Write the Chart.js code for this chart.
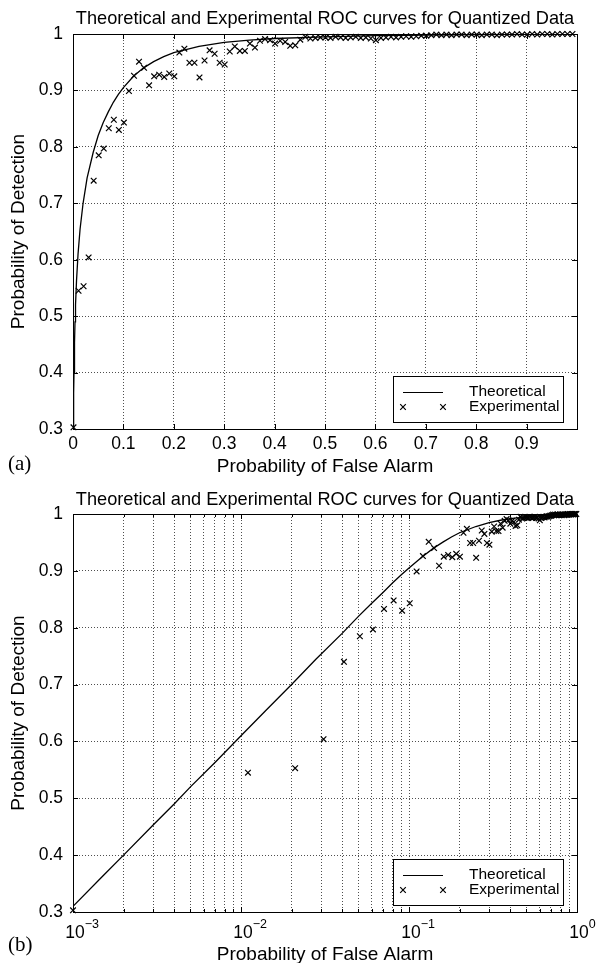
<!DOCTYPE html>
<html>
<head>
<meta charset="utf-8">
<script src="https://cdn.jsdelivr.net/npm/chart.js@4/dist/chart.umd.min.js"></script>
<style>
  body { margin: 0; background: #fff; width: 597px; height: 963px; position: relative; overflow: hidden; }
  .box { position: absolute; left: 0; width: 597px; }
  .tag { position: absolute; left: 8px; font-family: "Liberation Serif", serif; font-size: 21px; color: #000; }
</style>
</head>
<body>
<div class="box" style="top:0;height:481px"><canvas id="rocA"></canvas></div>
<div class="box" style="top:480px;height:490px"><canvas id="rocB"></canvas></div>
<div class="tag" style="top:451px">(a)</div>
<div class="tag" style="top:932px">(b)</div>
<script>
// theoretical ROC curve
const theoryPfa = [0, 0.001, 0.0015, 0.002, 0.003, 0.004, 0.005, 0.007, 0.01, 0.014, 0.02, 0.028, 0.04, 0.05, 0.06, 0.07, 0.08, 0.09,
  0.1, 0.12, 0.14, 0.16, 0.18, 0.2, 0.25, 0.3, 0.35, 0.4, 0.5, 0.6, 0.7, 0.8, 0.9, 1.0];
const theoryPd  = [0.30, 0.31, 0.363, 0.40, 0.453, 0.49, 0.52, 0.563, 0.61, 0.654, 0.70, 0.745, 0.79, 0.82, 0.843, 0.862, 0.879, 0.893,
  0.905, 0.925, 0.94, 0.951, 0.96, 0.967, 0.978, 0.985, 0.989, 0.992, 0.995, 0.997, 0.998, 0.999, 0.9995, 1.0];

// experimental points
const expPfa = [
  0.001, 0.011, 0.021, 0.031, 0.041, 0.051, 0.061, 0.071, 0.081, 0.091,
  0.101, 0.111, 0.121, 0.131, 0.141, 0.151, 0.161, 0.171, 0.181, 0.191,
  0.201, 0.211, 0.221, 0.231, 0.241, 0.251, 0.261, 0.271, 0.281, 0.291,
  0.301, 0.311, 0.321, 0.331, 0.341, 0.351, 0.361, 0.371, 0.381, 0.391,
  0.401, 0.411, 0.421, 0.431, 0.441, 0.451, 0.461, 0.471, 0.481, 0.491,
  0.501, 0.511, 0.521, 0.531, 0.541, 0.551, 0.561, 0.571, 0.581, 0.591,
  0.601, 0.611, 0.621, 0.631, 0.641, 0.651, 0.661, 0.671, 0.681, 0.691,
  0.701, 0.711, 0.721, 0.731, 0.741, 0.751, 0.761, 0.771, 0.781, 0.791,
  0.801, 0.811, 0.821, 0.831, 0.841, 0.851, 0.861, 0.871, 0.881, 0.891,
  0.901, 0.911, 0.921, 0.931, 0.941, 0.951, 0.961, 0.971, 0.981, 0.991
];
const expPd = [
  0.303, 0.545, 0.553, 0.604, 0.740, 0.785, 0.797, 0.833, 0.848, 0.830,
  0.843, 0.899, 0.926, 0.951, 0.940, 0.909, 0.925, 0.928, 0.924, 0.930,
  0.925, 0.967, 0.974, 0.949, 0.949, 0.923, 0.953, 0.971, 0.965, 0.949,
  0.946, 0.969, 0.978, 0.970, 0.970, 0.983, 0.976, 0.988, 0.991, 0.989,
  0.983, 0.988, 0.986, 0.979, 0.980, 0.990, 0.995, 0.992, 0.993, 0.994,
  0.994, 0.993, 0.995, 0.994, 0.993, 0.994, 0.995, 0.993, 0.994, 0.992,
  0.989, 0.993, 0.994, 0.995, 0.994, 0.995, 0.996, 0.995, 0.996, 0.997,
  0.997, 0.998, 0.999, 0.998, 0.999, 0.998, 0.999, 0.999, 0.998, 0.999,
  0.999, 0.998, 0.999, 0.999, 0.998, 0.999, 0.999, 0.999, 1.000, 0.999,
  0.999, 1.000, 0.999, 1.000, 1.000, 0.999, 1.000, 1.000, 1.000, 1.000
];

const titleText = 'Theoretical and Experimental ROC curves for Quantized Data';
const xTitle = 'Probability of False Alarm';
const yTitle = 'Probability of Detection';
const legendLabels = ['Theoretical', 'Experimental'];
const logDecades = [0.001, 0.01, 0.1, 1];
const logExpLabels = ['\u22123', '\u22122', '\u22121', '0'];

const FONT = '"Liberation Sans", Arial, sans-serif';

function drawCross(ctx, x, y, r) {
  ctx.beginPath();
  ctx.moveTo(x - r, y - r); ctx.lineTo(x + r, y + r);
  ctx.moveTo(x - r, y + r); ctx.lineTo(x + r, y - r);
  ctx.stroke();
}

// title, frame, inward tick marks, legend box, log tick labels
const decorations = {
  id: 'decorations',
  afterDraw(chart, args, opts) {
    const ctx = chart.ctx, a = chart.chartArea;
    const xs = chart.scales.x, ys = chart.scales.y;
    ctx.save();

    ctx.fillStyle = '#000';
    ctx.font = '18.2px ' + FONT;
    ctx.textAlign = 'center';
    ctx.textBaseline = 'middle';
    ctx.fillText(titleText, (a.left + a.right) / 2, opts.titleY);

    ctx.strokeStyle = '#000';
    ctx.lineWidth = 1;
    ctx.strokeRect(Math.round(a.left) + 0.5, Math.round(a.top) + 0.5,
      Math.round(a.right - a.left), Math.round(a.bottom - a.top));

    ctx.beginPath();
    xs.ticks.forEach(t => {
      const px = Math.round(xs.getPixelForValue(t.value)) + 0.5;
      const len = opts.log && !logDecades.includes(t.value) ? 3 : 5;
      ctx.moveTo(px, a.bottom); ctx.lineTo(px, a.bottom - len);
      ctx.moveTo(px, a.top); ctx.lineTo(px, a.top + len);
    });
    ys.ticks.forEach(t => {
      const py = Math.round(ys.getPixelForValue(t.value)) + 0.5;
      ctx.moveTo(a.left, py); ctx.lineTo(a.left + 5, py);
      ctx.moveTo(a.right, py); ctx.lineTo(a.right - 5, py);
    });
    ctx.stroke();

    if (opts.log) {
      ctx.textBaseline = 'alphabetic';
      logDecades.forEach((v, i) => {
        const px = xs.getPixelForValue(v) + 2;
        ctx.font = '17.5px ' + FONT;
        const w = ctx.measureText('10').width;
        ctx.textAlign = 'center';
        ctx.fillText('10', px, a.bottom + 26);
        ctx.font = '12.5px ' + FONT;
        ctx.textAlign = 'left';
        ctx.fillText(logExpLabels[i], px + w / 2, a.bottom + 16);
      });
    }

    // legend
    const w = 170, h = 46;
    const lx = Math.round(a.right - 14 - w), ly = Math.round(a.bottom - 7 - h);
    ctx.fillStyle = '#fff';
    ctx.fillRect(lx, ly, w, h);
    ctx.strokeRect(lx + 0.5, ly + 0.5, w, h);
    ctx.lineWidth = 1.2;
    ctx.beginPath();
    ctx.moveTo(lx + 10, ly + 16.5); ctx.lineTo(lx + 50, ly + 16.5);
    ctx.stroke();
    ctx.lineWidth = 1.2;
    drawCross(ctx, lx + 10, ly + 31, 2.8);
    drawCross(ctx, lx + 50, ly + 31, 2.8);
    ctx.fillStyle = '#000';
    ctx.font = '15.5px ' + FONT;
    ctx.textAlign = 'left';
    ctx.textBaseline = 'middle';
    ctx.fillText(legendLabels[0], lx + 76, ly + 16);
    ctx.fillText(legendLabels[1], lx + 76, ly + 31);
    ctx.restore();
  }
};

function makeChart(id, log) {
  const H = log ? 490 : 481;
  const bottom = log ? 432 : 429;
  const theory = theoryPfa.map((x, i) => ({x: x, y: theoryPd[i]})).filter(p => !log || p.x > 0);
  const exp = expPfa.map((x, i) => ({x: x, y: expPd[i]}));

  const xScale = {
    type: log ? 'logarithmic' : 'linear',
    min: log ? 0.001 : 0,
    max: 1,
    position: 'bottom',
    grid: { color: '#222', lineWidth: 0.8, drawTicks: false },
    border: { display: false, dash: [1, 2] },
    ticks: {
      color: '#000',
      font: { family: FONT, size: 17.5 },
      padding: 5,
      autoSkip: false,
      maxRotation: 0,
      stepSize: 0.1,
      callback: v => {
        if (log) return '';
        const r = Math.round(v * 10) / 10;
        return r >= 1 ? '' : String(r);
      }
    },
    title: {
      display: true, text: xTitle, color: '#000',
      font: { family: FONT, size: 19 },
      padding: { top: 0, bottom: log ? 3.8 : 2.8 }
    },
    afterFit: s => { s.height = H - bottom; }
  };
  if (log) {
    xScale.afterBuildTicks = s => {
      const t = [];
      logDecades.slice(0, 3).forEach(d => {
        for (let m = 1; m <= 9; m++) t.push({ value: +(d * m).toPrecision(3), major: m === 1 });
      });
      t.push({ value: 1, major: true });
      s.ticks = t;
    };
  }

  return new Chart(document.getElementById(id), {
    type: 'scatter',
    data: {
      datasets: [
        {
          label: legendLabels[0],
          data: theory,
          showLine: true,
          borderColor: '#000',
          borderWidth: 1.3,
          pointRadius: 0,
          tension: 0
        },
        {
          label: legendLabels[1],
          data: exp,
          showLine: false,
          pointStyle: 'crossRot',
          pointRadius: 4,
          borderColor: '#000',
          borderWidth: 1.2,
          clip: false
        }
      ]
    },
    options: {
      responsive: true,
      maintainAspectRatio: false,
      animation: false,
      layout: { padding: { left: 0, right: 20, top: 34, bottom: 0 } },
      plugins: {
        legend: { display: false },
        tooltip: { enabled: false },
        title: { display: false },
        decorations: { log: log, titleY: log ? 20 : 18.5 }
      },
      scales: {
        x: xScale,
        y: {
          type: 'linear', min: 0.3, max: 1,
          grid: { color: '#222', lineWidth: 0.8, drawTicks: false },
          border: { display: false, dash: [1, 2] },
          ticks: {
            color: '#000', stepSize: 0.1, padding: 10,
            font: { family: FONT, size: 17.5 },
            callback: v => String(Math.round(v * 10) / 10)
          },
          title: {
            display: true, text: yTitle, color: '#000',
            font: { family: FONT, size: 19 },
            padding: { top: 7.5, bottom: 0 }
          },
          afterFit: s => { s.width = 73; }
        }
      }
    },
    plugins: [decorations]
  });
}

makeChart('rocA', false);
makeChart('rocB', true);
</script>
</body>
</html>
